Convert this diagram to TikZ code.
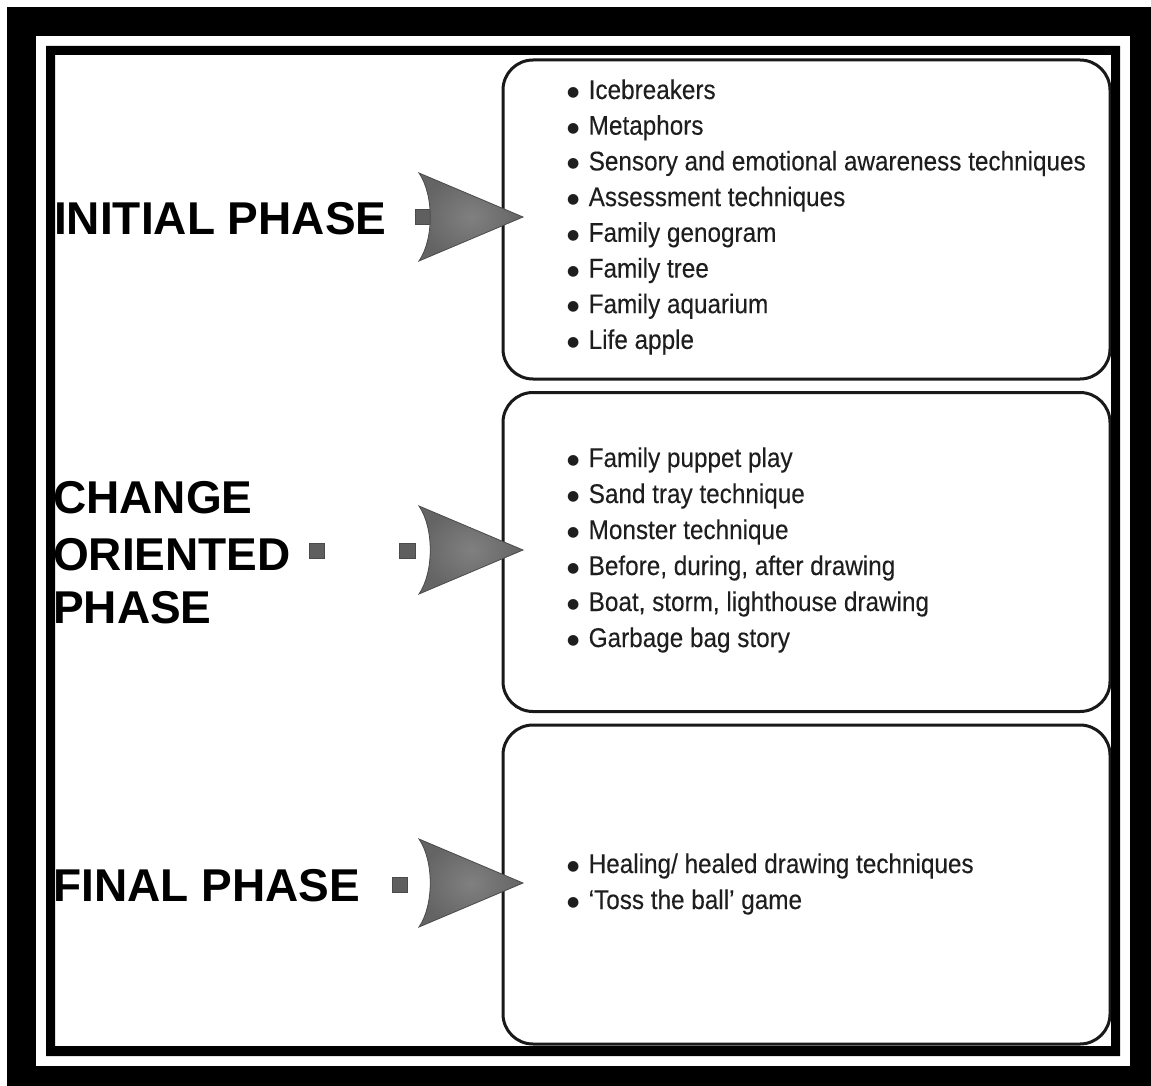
\documentclass[tikz,border=0pt]{standalone}
\usepackage{fontspec}
\setmainfont{Liberation Sans}
\newfontfamily\listfont[FakeStretch=0.9,FakeBold=0.2]{Liberation Sans}
\newfontfamily\bulfont{DejaVu Sans}
\newcommand\itembul{\makebox[21.5pt][l]{\raisebox{2.5pt}{\bulfont\fontsize{14}{14}\selectfont ●}}}
\definecolor{boxline}{RGB}{25,25,25}
\definecolor{listtext}{RGB}{30,30,30}
\definecolor{chevin}{RGB}{128,128,128}
\definecolor{chevout}{RGB}{100,100,100}
\definecolor{chevedge}{RGB}{75,75,75}
\definecolor{markfill}{RGB}{95,95,95}
\begin{document}
\begin{tikzpicture}[x=1pt,y=-1pt,
  phase/.style={anchor=base west, inner sep=0pt, font=\bfseries\fontsize{46}{55}\selectfont, text=black},
  listitem/.style={anchor=base west, inner sep=0pt, font=\listfont\fontsize{27}{36}\selectfont, text=listtext},
  phasebox/.style={draw=boxline, line width=3pt, rounded corners=30pt, fill=white, anchor=north west, inner sep=0pt, minimum width=607pt, minimum height=319pt},
  marker/.style={fill=markfill, draw=chevedge, line width=0.6pt},
  chevron/.style={inner color=chevin, outer color=chevout, draw=chevedge, line width=0.8pt}]
\useasboundingbox (0,0) rectangle (1151,1086);
% outer frame
\fill[black] (7,7) rectangle (1151,1086);
\fill[white] (36,36) rectangle (1130,1066);

% boxes
\node[phasebox] (box1) at (501.5,58.5) {};
\node[phasebox] (box2) at (501.5,391) {};
\node[phasebox] (box3) at (501.5,723.5) {};

% phase labels
\node[phase] (initial) at (54,235) {INITIAL PHASE};
\node[phase] (change1) at (53,513) {CHANGE};
\node[phase] (change2) at (53,570) {ORIENTED};
\node[phase] (change3) at (53,623) {PHASE};
\node[phase] (final) at (53,901) {FINAL PHASE};

% markers
\draw[marker] (415,209) rectangle (430,224);
\draw[marker] (309,543) rectangle (324,558);
\draw[marker] (399,543) rectangle (415,558);
\draw[marker] (392,877) rectangle (407,892);

% chevrons
\draw[chevron] (419,173) -- (523,217) -- (419,261) .. controls (434,239) and (434,195) .. (419,173) -- cycle;
\draw[chevron] (419,506) -- (523,550) -- (419,594) .. controls (434,572) and (434,528) .. (419,506) -- cycle;
\draw[chevron] (419,839) -- (523,883) -- (419,927) .. controls (434,905) and (434,861) .. (419,839) -- cycle;

% lists
\foreach \t [count=\i] in {Icebreakers, Metaphors, Sensory and emotional awareness techniques, Assessment techniques, Family genogram, Family tree, Family aquarium, Life apple}
  \node[listitem] (ia\i) at ({567},{99+35.7*(\i-1)}) {\itembul\t};
\foreach \t [count=\i] in {Family puppet play, Sand tray technique, Monster technique, {Before, during, after drawing}, {Boat, storm, lighthouse drawing}, Garbage bag story}
  \node[listitem] (cb\i) at ({567},{467+36*(\i-1)}) {\itembul\t};
\node[listitem] (fc1) at (567,873) {\itembul Healing/ healed drawing techniques};
\node[listitem] (fc2) at (567,909) {\itembul ‘Toss the ball’ game};

% inner frame on top
\fill[black, even odd rule] (46,46) rectangle (1120,1056) (55,55) rectangle (1111,1046);
\end{tikzpicture}
\end{document}
